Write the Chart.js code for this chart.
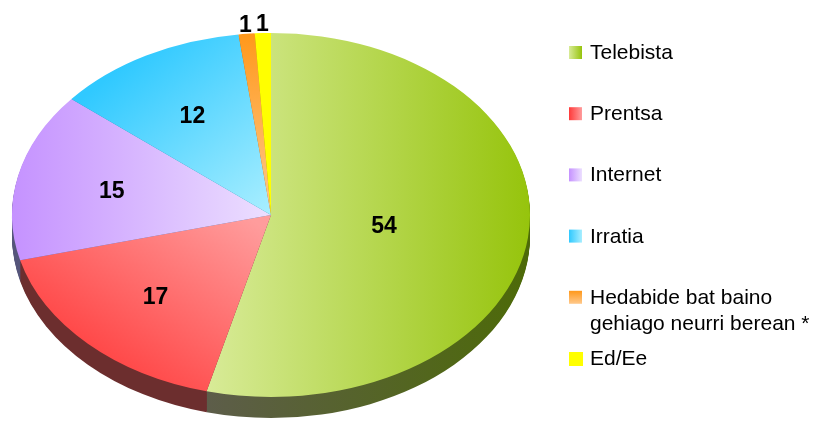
<!DOCTYPE html>
<html>
<head>
<meta charset="utf-8">
<script src="https://cdn.jsdelivr.net/npm/chart.js@4"></script>
<style>
  html,body{margin:0;padding:0;background:#fff;}
  #wrap{width:819px;height:422px;}
</style>
</head>
<body>
<div id="wrap"><canvas id="pie" width="819" height="422"></canvas></div>
<script>
// categories and shares (%)
const mediaLabels = ["Telebista", "Prentsa", "Internet", "Irratia", "Hedabide bat baino\ngehiago neurri berean *", "Ed/Ee"];
const mediaShares = [54, 17, 15, 12, 1, 1];

// top face colours: [start, end] stops
const topStops = [
    ["#d8eb98", "#96c40c"],
    ["#ff3a3a", "#ff9c9c"],
    ["#c592ff", "#ecdfff"],
    ["#30c9ff", "#a8eeff"],
    ["#ff981a", "#ffc98c"],
    ["#ffff00", "#ffff00"]
];
// gradient directions in normalised pie units (u,v from centre, 1 = rim)
const topDirs = [
    [-0.25, 0, 1.0, 0],
    [-0.8, 0.85, -0.05, 0.05],
    [-1.0, 0, 0, 0],
    [-0.74, -0.63, -0.02, 0],
    [0, -1.0, 0, 0],
    [0, -1.0, 0, 0]
];
// side wall colours
const sideStops = [
    ["#5d5d4a", "#4d6a08"],
    ["#6c2e2e", "#7a3434"],
    ["#55557a", "#5d5d7a"],
    ["#1e86a8", "#2e9cc0"],
    ["#b0600e", "#b0600e"],
    ["#a0a000", "#a0a000"]
];

const xStretch = 259 / 182;   // ellipse rx / ry
const depth = 21;

function pieGeom(chart){
    const a = chart.chartArea;
    return {cx: (a.left + a.right) / 2, cy: (a.top + a.bottom) / 2, r: Math.min(a.right - a.left, a.bottom - a.top) / 2};
}

function topFill(context){
    const chart = context.chart;
    if(!chart.chartArea) return topStops[context.dataIndex][0];
    const g = pieGeom(chart);
    const d = topDirs[context.dataIndex];
    const s = topStops[context.dataIndex];
    const grad = chart.ctx.createLinearGradient(g.cx + d[0]*g.r, g.cy + d[1]*g.r, g.cx + d[2]*g.r, g.cy + d[3]*g.r);
    grad.addColorStop(0, s[0]);
    grad.addColorStop(1, s[1]);
    return grad;
}

const tiltPlugin = {
    id: 'tilt',
    beforeDatasetsDraw(chart){
        const ctx = chart.ctx;
        const g = pieGeom(chart);
        const arcs = chart.getDatasetMeta(0).data;
        // side wall: the wedges stacked downward in dark tones
        for(let dy = depth; dy >= 1; dy--){
            arcs.forEach((arc, i) => {
                ctx.save();
                ctx.translate(g.cx, g.cy + dy);
                ctx.scale(xStretch, 1);
                ctx.translate(-g.cx, -g.cy);
                const grad = ctx.createLinearGradient(g.cx - 0.25*g.r, 0, g.cx + g.r, 0);
                grad.addColorStop(0, sideStops[i][0]);
                grad.addColorStop(1, sideStops[i][1]);
                ctx.fillStyle = grad;
                ctx.beginPath();
                ctx.moveTo(arc.x, arc.y);
                ctx.arc(arc.x, arc.y, arc.outerRadius, arc.startAngle, arc.endAngle);
                ctx.closePath();
                ctx.fill();
                ctx.restore();
            });
        }
        // stretch the top face into an ellipse
        ctx.save();
        ctx.translate(g.cx, g.cy);
        ctx.scale(xStretch, 1);
        ctx.translate(-g.cx, -g.cy);
    },
    afterDatasetsDraw(chart){
        const ctx = chart.ctx;
        ctx.restore();
        const g = pieGeom(chart);
        const arcs = chart.getDatasetMeta(0).data;
        const values = chart.data.datasets[0].data;
        ctx.save();
        ctx.fillStyle = "#000";
        ctx.font = "bold 23px 'Liberation Sans', Arial, sans-serif";
        ctx.textAlign = "center";
        ctx.textBaseline = "middle";
        arcs.forEach((arc, i) => {
            const mid = (arc.startAngle + arc.endAngle) / 2;
            let f = values[i] > 50 ? 0.44 : 0.63;
            if(values[i] < 3) f = 1.055;
            const x = g.cx + Math.cos(mid) * f * g.r * xStretch;
            const y = g.cy + Math.sin(mid) * f * g.r + 2;
            ctx.fillText(String(values[i]), x, y);
        });
        ctx.restore();
    },
    afterDraw(chart){
        // legend on the right
        const ctx = chart.ctx;
        const labels = chart.data.labels;
        ctx.save();
        ctx.font = "21px 'Liberation Sans', Arial, sans-serif";
        ctx.textBaseline = "alphabetic";
        ctx.textAlign = "left";
        labels.forEach((lab, i) => {
            const base = 59 + i * 61.2;
            const box = i === 5 ? 14 : 13;
            const bx = 569, by = base - 13;
            const s = topStops[i];
            const grad = i === 4
                ? ctx.createLinearGradient(bx, by, bx, by + box)
                : ctx.createLinearGradient(bx, by, bx + box, by);
            grad.addColorStop(0, s[0]);
            grad.addColorStop(1, s[1]);
            ctx.fillStyle = grad;
            ctx.fillRect(bx, by, box, box);
            ctx.fillStyle = "#000";
            lab.split("\n").forEach((line, j) => {
                ctx.fillText(line, 590, base + j * 26);
            });
        });
        ctx.restore();
    }
};

new Chart(document.getElementById("pie"), {
    type: "pie",
    data: {
        labels: mediaLabels,
        datasets: [{
            data: mediaShares,
            backgroundColor: topFill,
            borderWidth: 0,
            clip: false
        }]
    },
    options: {
        responsive: false,
        animation: false,
        layout: {padding: {top: 33, bottom: 25, left: 89, right: 366}},
        plugins: {
            legend: {display: false},
            tooltip: {enabled: false}
        }
    },
    plugins: [tiltPlugin]
});
</script>
</body>
</html>
